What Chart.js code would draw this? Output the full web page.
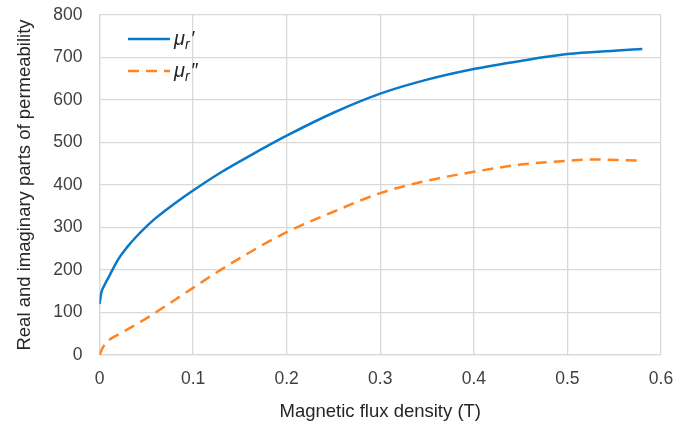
<!DOCTYPE html>
<html>
<head>
<meta charset="utf-8">
<script src="https://cdn.jsdelivr.net/npm/chart.js@4"></script>
<style>
  html, body { margin: 0; padding: 0; background: #fff; }
  #wrap { width: 691px; height: 425px; }
</style>
</head>
<body>
<div id="wrap"><canvas id="chart" width="691" height="425"></canvas></div>
<script>
// flux density (T) and permeability parts
const fluxReal = [0, 0.002, 0.005, 0.01, 0.02, 0.03, 0.04, 0.05, 0.06, 0.08, 0.1, 0.13, 0.16, 0.2, 0.25, 0.3, 0.35, 0.4, 0.45, 0.5, 0.55, 0.58];
const muReal = [120, 147, 163, 184, 225, 255, 280, 302, 322, 356, 387, 430, 468, 516, 570, 615, 648, 673, 692, 708, 716, 720];

const fluxImag = [0, 0.003, 0.006, 0.01, 0.02, 0.04, 0.06, 0.08, 0.1, 0.12, 0.15, 0.2, 0.25, 0.3, 0.35, 0.4, 0.45, 0.5, 0.53, 0.58];
const muImag = [0, 15, 26, 35, 48, 73, 100, 129, 158, 187, 228, 289, 337, 381, 410, 431, 448, 457, 460, 457];

const seriesNames = [["μ", "r", "′"], ["μ", "r", "″"]];
const xTitle = "Magnetic flux density (T)";
const yTitle = "Real and imaginary parts of permeability";

const BLUE = "#0a78c8";
const ORANGE = "#ff8422";
const GRID = "#d9d9d9";
const TEXT = "#404040";
const FONT = "'Liberation Sans', Arial, sans-serif";

function toPoints(xs, ys) {
  return xs.map((x, i) => ({ x, y: ys[i] }));
}

// draws the legend with a subscript r, which the built-in legend can't do
const muLegend = {
  id: "muLegend",
  afterDraw(chart) {
    const ctx = chart.ctx;
    const rows = [{ y: 39, color: BLUE, dash: [] }, { y: 71, color: ORANGE, dash: [11, 7] }];
    ctx.save();
    rows.forEach((row, i) => {
      ctx.beginPath();
      ctx.setLineDash(row.dash);
      ctx.strokeStyle = row.color;
      ctx.lineWidth = 2.5;
      ctx.moveTo(128, row.y);
      ctx.lineTo(170, row.y);
      ctx.stroke();
      ctx.setLineDash([]);

      const [mu, sub, prime] = seriesNames[i];
      ctx.fillStyle = "#262626";
      ctx.textBaseline = "alphabetic";
      ctx.font = "italic 20px " + FONT;
      let x = 174;
      ctx.fillText(mu, x, row.y + 6);
      x += ctx.measureText(mu).width;
      ctx.font = "italic 14px " + FONT;
      ctx.fillText(sub, x, row.y + 10);
      x += ctx.measureText(sub).width + 1;
      ctx.font = "italic 20px " + FONT;
      ctx.fillText(prime, x, row.y + 6);
    });
    ctx.restore();
  },
};

function init() {
  const ctx = document.getElementById("chart").getContext("2d");
  new Chart(ctx, {
    type: "line",
    data: {
      datasets: [
        {
          label: "mu_r'",
          data: toPoints(fluxReal, muReal),
          borderColor: BLUE,
          borderWidth: 2.5,
          pointRadius: 0,
          cubicInterpolationMode: "monotone",
          fill: false,
        },
        {
          label: "mu_r''",
          data: toPoints(fluxImag, muImag),
          borderColor: ORANGE,
          borderWidth: 2.5,
          borderDash: [11, 7],
          pointRadius: 0,
          cubicInterpolationMode: "monotone",
          fill: false,
        },
      ],
    },
    options: {
      responsive: false,
      animation: false,
      layout: { padding: { top: 15, right: 30, left: 0, bottom: 0 } },
      plugins: {
        legend: { display: false },
        tooltip: { enabled: false },
      },
      scales: {
        x: {
          type: "linear",
          min: 0,
          max: 0.6,
          ticks: {
            stepSize: 0.1,
            color: TEXT,
            padding: 14,
            font: { family: FONT, size: 17.5 },
            callback: (v) => String(Math.round(v * 10) / 10),
          },
          grid: { color: GRID, lineWidth: 1.3, drawTicks: false },
          border: { color: GRID, width: 1.3 },
          title: {
            display: true,
            text: xTitle,
            color: "#262626",
            padding: { top: 0, bottom: 2 },
            font: { family: FONT, size: 18.5 },
          },
          afterFit(scale) {
            scale.height = 70;
            scale.paddingLeft = 0;
            scale.paddingRight = 0;
          },
        },
        y: {
          min: 0,
          max: 800,
          ticks: {
            stepSize: 100,
            color: TEXT,
            padding: 17,
            font: { family: FONT, size: 17.5 },
          },
          grid: { color: GRID, lineWidth: 1.3, drawTicks: false },
          border: { color: GRID, width: 1.3 },
          title: {
            display: true,
            text: yTitle,
            color: "#262626",
            padding: { top: 14, bottom: 0 },
            font: { family: FONT, size: 18.5 },
          },
          afterFit(scale) {
            scale.width = 99.5;
            scale.paddingTop = 0;
            scale.paddingBottom = 0;
          },
        },
      },
    },
    plugins: [muLegend],
  });
}

document.addEventListener("DOMContentLoaded", init);
</script>
</body>
</html>
